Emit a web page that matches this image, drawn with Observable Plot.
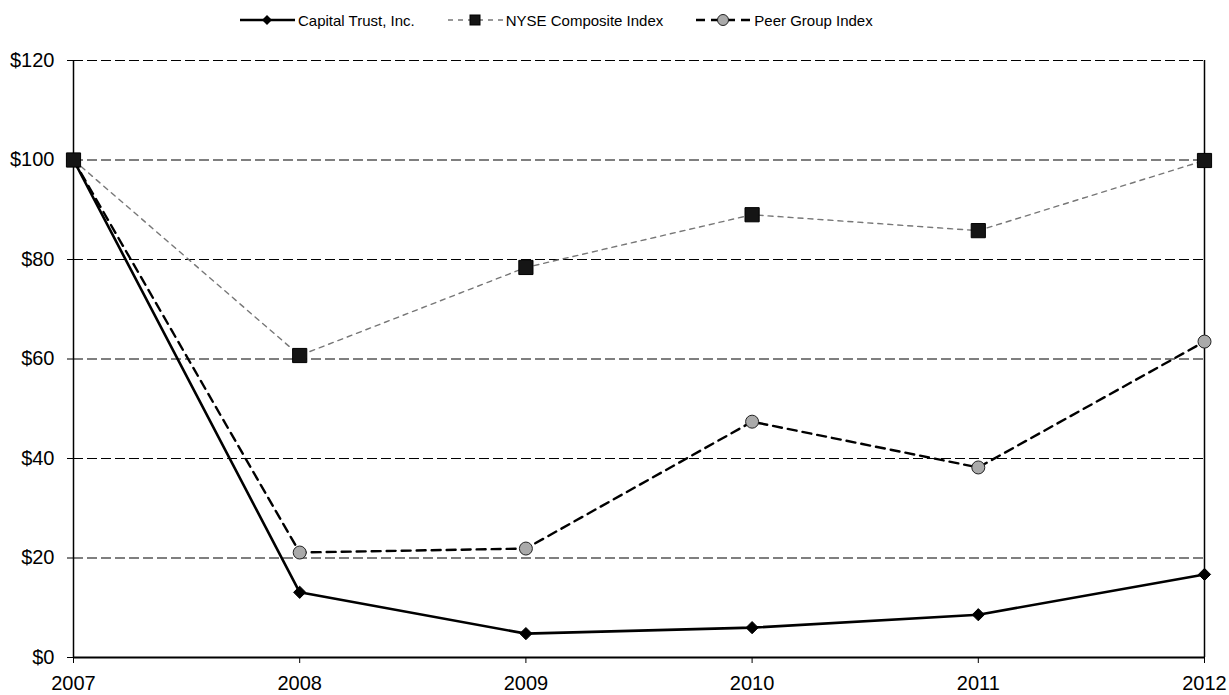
<!DOCTYPE html>
<html>
<head>
<meta charset="utf-8">
<script src="https://cdn.jsdelivr.net/npm/d3@7"></script>
<script src="https://cdn.jsdelivr.net/npm/@observablehq/plot@0.6"></script>
<style>
  html, body { margin: 0; padding: 0; background: #fff; }
  body { width: 1229px; height: 695px; overflow: hidden; font-family: "Liberation Sans", Arial, sans-serif; }
  #legend { height: 40px; display: flex; justify-content: flex-start; align-items: center; gap: 33px; font-size: 15px; color: #000; padding-left: 240px; box-sizing: border-box; }
  .item { display: flex; align-items: center; gap: 3px; }
</style>
</head>
<body>
<div id="legend"></div>
<div id="chart"></div>
<script>
const years = [2007, 2008, 2009, 2010, 2011, 2012];
const capitalTrust = [100, 13.1, 4.8, 6.0, 8.6, 16.7];
const nyseComposite = [100, 60.7, 78.4, 89.0, 85.8, 99.9];
const peerGroup = [100, 21.1, 21.9, 47.4, 38.2, 63.5];
const yTicks = [0, 20, 40, 60, 80, 100, 120];
const seriesNames = ["Capital Trust, Inc.", "NYSE Composite Index", "Peer Group Index"];

const styles = {
  "Capital Trust, Inc.": {stroke: "#000", strokeWidth: 2.6, dash: null, symbol: "diamond2", fill: "#000", dotStroke: "#000", r: 5.5},
  "NYSE Composite Index": {stroke: "#777", strokeWidth: 1.4, dash: "5,5", symbol: "square", fill: "#151515", dotStroke: "#000", r: 8},
  "Peer Group Index": {stroke: "#000", strokeWidth: 2.4, dash: "9,6", symbol: "circle", fill: "#aaa", dotStroke: "#222", r: 6.5}
};

const valuesBySeries = [capitalTrust, nyseComposite, peerGroup];
const data = [];
seriesNames.forEach((s, i) => years.forEach((y, j) => data.push({series: s, year: y, value: valuesBySeries[i][j]})));

const marks = [
  Plot.ruleY(yTicks.filter(d => d > 0), {stroke: "#000", strokeWidth: 1.2, strokeDasharray: "10,4"}),
  Plot.ruleY([0], {stroke: "#000", strokeWidth: 1.8}),
  Plot.ruleX([2007, 2012], {stroke: "#000", strokeWidth: 1.5}),
  Plot.axisX({ticks: years, tickFormat: "d", tickSize: 6, tickPadding: 12, fontSize: 20, anchor: "bottom"}),
  Plot.axisY({ticks: yTicks, tickFormat: d => "$" + d, tickSize: 6, tickPadding: 13, fontSize: 20, anchor: "left"})
];
const drawOrder = ["Peer Group Index", "Capital Trust, Inc.", "NYSE Composite Index"];
for (const s of drawOrder) {
  const st = styles[s];
  const d = data.filter(r => r.series === s);
  marks.push(Plot.line(d, {x: "year", y: "value", stroke: st.stroke, strokeWidth: st.strokeWidth, strokeDasharray: st.dash}));
}
for (const s of drawOrder) {
  const st = styles[s];
  const d = data.filter(r => r.series === s);
  marks.push(Plot.dot(d, {x: "year", y: "value", symbol: () => st.symbol, fill: st.fill, stroke: st.dotStroke, strokeWidth: 1, r: st.r}));
}

const chart = Plot.plot({
  width: 1229,
  height: 655,
  marginTop: 20,
  marginBottom: 38,
  marginLeft: 73,
  marginRight: 25,
  style: {fontFamily: "'Liberation Sans', Arial, sans-serif", fontSize: "20px", color: "#000", background: "#fff"},
  x: {domain: [2007, 2012], label: null},
  y: {domain: [0, 120], label: null},
  symbol: {type: "identity"},
  marks
});
document.getElementById("chart").appendChild(chart);

const legend = document.getElementById("legend");
for (const s of seriesNames) {
  const st = styles[s];
  const item = document.createElement("div");
  item.className = "item";
  const w = 55, h = 16;
  let sym;
  if (st.symbol === "diamond2") sym = `<path d="M27,3 L32,8 L27,13 L22,8 Z" fill="${st.fill}"/>`;
  else if (st.symbol === "square") sym = `<rect x="22" y="3" width="10" height="10" fill="${st.fill}" stroke="${st.dotStroke}"/>`;
  else sym = `<circle cx="27" cy="8" r="5.5" fill="${st.fill}" stroke="${st.dotStroke}"/>`;
  item.innerHTML = `<svg width="${w}" height="${h}"><line x1="0" y1="8" x2="${w}" y2="8" stroke="${st.stroke}" stroke-width="${st.strokeWidth}" ${st.dash ? `stroke-dasharray="${st.dash}"` : ""}/>${sym}</svg><span>${s}</span>`;
  legend.appendChild(item);
}
</script>
</body>
</html>
